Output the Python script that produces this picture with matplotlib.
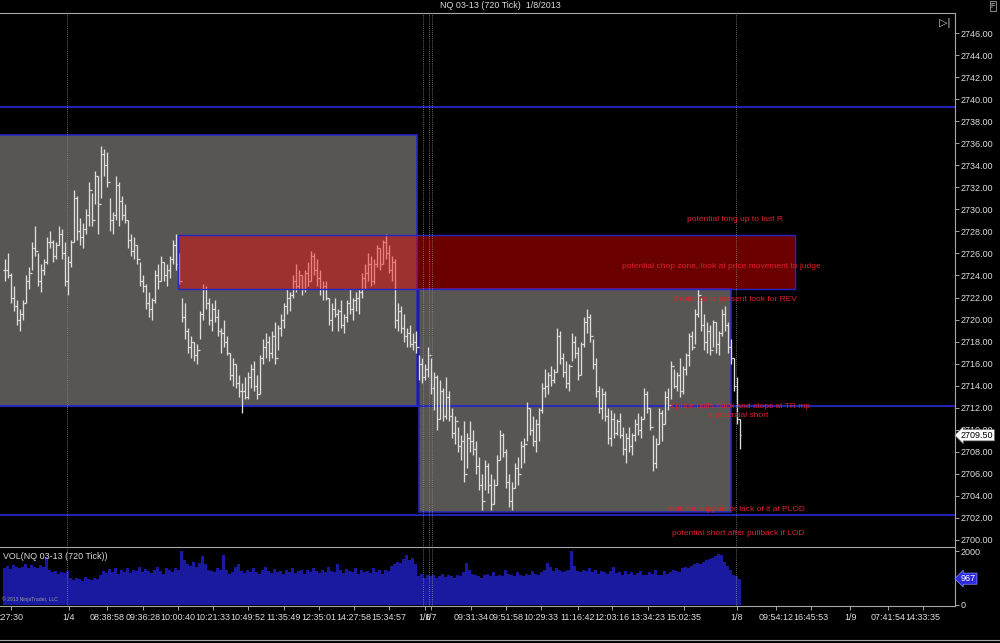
import numpy as np
import matplotlib
matplotlib.use('Agg')
import matplotlib.pyplot as plt
import matplotlib.transforms as mtransforms
from matplotlib.patches import Rectangle

plt.rcParams['font.family'] = ['Liberation Sans', 'DejaVu Sans']

###################################
# chart data
###################################
title = 'NQ 03-13 (720 Tick)  1/8/2013'

highs = [2725.5, 2726.0, 2724.25, 2723.0, 2721.75, 2721.0, 2721.75, 2724.0, 2724.75, 2727.0,
         2728.5, 2726.0, 2725.0, 2725.5, 2727.5, 2728.0, 2727.25, 2727.0, 2728.5, 2728.25,
         2727.0, 2725.75, 2727.25, 2731.75, 2731.25, 2729.25, 2728.75, 2730.0, 2732.5, 2731.5,
         2733.5, 2733.0, 2735.75, 2735.5, 2735.25, 2731.0, 2729.75, 2733.0, 2732.5, 2731.25,
         2730.5, 2729.0, 2727.75, 2727.5, 2726.75, 2725.25, 2724.0, 2723.25, 2722.5, 2722.0,
         2724.5, 2725.0, 2725.75, 2725.25, 2725.0, 2725.75, 2727.25, 2727.75, 2726.0, 2722.0,
         2721.5, 2719.25, 2718.5, 2718.0, 2717.75, 2720.75, 2723.25, 2723.0, 2722.0, 2721.5,
         2721.75, 2721.0, 2719.25, 2720.0, 2718.5, 2717.0, 2716.5, 2716.0, 2715.0, 2714.25,
         2714.75, 2715.25, 2716.0, 2716.25, 2715.0, 2716.75, 2718.25, 2718.75, 2718.5, 2719.0,
         2719.75, 2719.5, 2720.5, 2721.5, 2722.75, 2722.5, 2724.0, 2725.0, 2724.5, 2724.0,
         2724.5, 2725.25, 2726.25, 2726.0, 2725.5, 2724.5, 2723.5, 2723.5, 2722.0, 2721.5,
         2722.0, 2721.0, 2721.75, 2720.5, 2721.75, 2722.75, 2722.0, 2722.5, 2722.75, 2724.25,
         2725.0, 2726.0, 2725.75, 2725.5, 2726.75, 2726.5, 2727.25, 2727.75, 2726.75, 2725.75,
         2725.5, 2721.5, 2721.25, 2720.5, 2719.25, 2719.5, 2718.75, 2719.0, 2716.75, 2716.5,
         2716.0, 2717.5, 2716.5, 2715.25, 2715.0, 2714.5, 2713.75, 2714.75, 2713.5, 2712.0,
         2711.25, 2710.25, 2709.5, 2710.75, 2709.75, 2710.75, 2710.0, 2709.0, 2707.5, 2706.0,
         2707.25, 2707.0, 2706.0, 2705.5, 2707.75, 2710.0, 2709.75, 2708.25, 2706.0, 2705.25,
         2707.0, 2707.5, 2709.0, 2709.25, 2712.5, 2712.0, 2711.25, 2711.0, 2712.0, 2714.25,
         2715.5, 2715.25, 2715.75, 2715.5, 2719.25, 2719.0, 2717.0, 2716.25, 2716.0, 2718.75,
         2718.5, 2717.5, 2718.0, 2720.25, 2721.0, 2720.5, 2718.25, 2716.5, 2714.0, 2713.75,
         2713.5, 2712.0, 2711.75, 2711.5, 2711.0, 2711.5, 2710.25, 2709.75, 2710.25, 2709.75,
         2711.0, 2711.5, 2711.25, 2713.75, 2713.5, 2712.0, 2709.5, 2709.25, 2712.0, 2711.75,
         2713.5, 2713.75, 2716.25, 2715.5, 2715.25, 2716.5, 2715.75, 2717.0, 2718.75, 2719.0,
         2721.0, 2722.75, 2722.0, 2720.5, 2719.75, 2719.5, 2720.0, 2719.75, 2719.0, 2721.0,
         2721.25, 2719.75, 2718.25, 2716.5, 2714.75, 2711.0]

lows = [2723.5, 2723.75, 2721.5, 2720.75, 2719.5, 2719.0, 2720.0, 2721.5, 2722.75, 2724.5,
        2725.75, 2723.0, 2722.5, 2724.0, 2725.0, 2726.5, 2725.25, 2725.5, 2726.75, 2725.5,
        2723.0, 2722.25, 2724.75, 2727.0, 2727.25, 2726.75, 2726.5, 2727.75, 2728.5, 2728.5,
        2730.5, 2727.75, 2731.0, 2733.0, 2732.0, 2728.0, 2727.75, 2729.0, 2728.5, 2729.0,
        2728.75, 2726.5, 2725.75, 2725.5, 2725.0, 2723.0, 2722.5, 2721.0, 2720.25, 2720.0,
        2721.5, 2722.75, 2723.5, 2723.5, 2723.0, 2723.75, 2725.0, 2724.5, 2723.25, 2719.75,
        2718.25, 2717.0, 2716.5, 2716.25, 2716.0, 2718.25, 2720.0, 2721.0, 2719.5, 2719.0,
        2719.75, 2718.5, 2717.0, 2717.5, 2716.75, 2714.5, 2714.0, 2713.75, 2713.0, 2711.5,
        2712.75, 2712.75, 2713.75, 2713.5, 2712.75, 2713.25, 2716.0, 2716.5, 2716.25, 2716.5,
        2716.0, 2717.25, 2718.5, 2719.25, 2720.5, 2720.75, 2722.0, 2722.5, 2722.75, 2722.25,
        2722.5, 2723.0, 2723.5, 2724.0, 2723.0, 2722.25, 2721.75, 2721.75, 2719.5, 2719.0,
        2720.25, 2719.0, 2719.25, 2718.75, 2719.75, 2720.5, 2720.0, 2720.75, 2720.5, 2722.0,
        2722.75, 2723.5, 2723.0, 2723.25, 2724.75, 2724.5, 2725.0, 2725.5, 2724.25, 2723.5,
        2719.25, 2719.0, 2718.75, 2718.0, 2717.5, 2717.5, 2717.25, 2717.0, 2714.5, 2714.25,
        2714.5, 2714.75, 2713.25, 2711.75, 2710.0, 2711.0, 2710.75, 2711.0, 2710.75, 2709.25,
        2708.75, 2708.0, 2707.25, 2705.25, 2706.5, 2708.0, 2707.75, 2706.0, 2704.5, 2702.75,
        2704.5, 2704.25, 2702.75, 2703.25, 2705.0, 2707.25, 2707.5, 2704.75, 2703.0, 2702.75,
        2704.75, 2705.0, 2706.5, 2707.0, 2709.0, 2709.5, 2708.5, 2708.0, 2709.0, 2711.5,
        2713.0, 2713.25, 2714.0, 2714.25, 2715.25, 2716.0, 2714.75, 2713.75, 2713.5, 2716.25,
        2716.5, 2714.5, 2715.0, 2717.5, 2718.75, 2718.0, 2715.5, 2713.0, 2711.5, 2711.0,
        2710.75, 2708.75, 2708.5, 2709.25, 2709.5, 2709.25, 2707.75, 2707.0, 2708.0, 2707.75,
        2709.0, 2709.5, 2709.25, 2711.0, 2711.5, 2710.0, 2706.25, 2706.5, 2708.75, 2709.0,
        2710.5, 2711.75, 2712.75, 2713.75, 2713.5, 2713.0, 2713.25, 2715.0, 2715.75, 2717.25,
        2717.75, 2720.25, 2719.0, 2717.25, 2717.0, 2716.75, 2717.5, 2717.0, 2716.75, 2718.5,
        2719.0, 2717.0, 2716.0, 2713.5, 2710.5, 2708.25]

closes = [2724.5, 2724.0, 2722.0, 2721.25, 2720.0, 2720.5, 2721.5, 2723.5, 2724.25, 2726.5,
          2726.25, 2723.5, 2724.5, 2725.25, 2727.0, 2727.0, 2725.75, 2726.75, 2727.75, 2726.0,
          2723.5, 2725.25, 2727.0, 2731.0, 2728.0, 2727.5, 2728.25, 2729.5, 2731.75, 2729.0,
          2733.0, 2730.5, 2735.0, 2734.0, 2732.5, 2729.0, 2729.5, 2732.25, 2730.75, 2729.5,
          2729.0, 2727.25, 2726.25, 2726.75, 2725.5, 2723.5, 2723.0, 2721.5, 2721.0, 2721.75,
          2724.0, 2723.5, 2725.25, 2724.0, 2724.5, 2725.5, 2726.75, 2725.0, 2723.5, 2720.25,
          2719.0, 2717.5, 2718.0, 2716.75, 2717.25, 2720.5, 2722.75, 2721.5, 2720.0, 2721.0,
          2720.25, 2719.0, 2718.75, 2718.0, 2717.0, 2715.0, 2716.0, 2714.25, 2713.5, 2713.5,
          2713.0, 2714.75, 2715.5, 2714.0, 2713.25, 2716.5, 2717.5, 2718.0, 2717.0, 2718.5,
          2716.5, 2719.25, 2720.0, 2721.25, 2722.0, 2722.25, 2723.5, 2723.0, 2724.0, 2722.75,
          2724.25, 2723.5, 2725.75, 2724.5, 2723.75, 2722.75, 2723.0, 2722.0, 2720.0, 2721.0,
          2720.5, 2720.75, 2719.5, 2720.25, 2721.5, 2721.0, 2721.75, 2722.0, 2722.5, 2723.75,
          2724.25, 2725.0, 2723.5, 2725.0, 2726.5, 2725.0, 2727.0, 2726.0, 2724.5, 2725.25,
          2720.0, 2720.75, 2719.25, 2718.5, 2718.75, 2717.75, 2718.0, 2717.5, 2716.0, 2714.75,
          2715.5, 2716.75, 2713.75, 2714.75, 2711.0, 2713.5, 2711.25, 2713.0, 2711.25, 2709.75,
          2710.75, 2708.5, 2709.0, 2706.0, 2709.25, 2709.0, 2708.25, 2706.75, 2705.0, 2703.5,
          2706.75, 2705.0, 2703.25, 2705.0, 2707.25, 2709.5, 2708.0, 2705.25, 2703.5, 2704.75,
          2706.5, 2706.0, 2708.5, 2708.75, 2712.0, 2710.0, 2709.0, 2710.5, 2711.75, 2713.75,
          2714.0, 2715.0, 2714.5, 2715.25, 2718.5, 2716.5, 2715.25, 2714.25, 2715.75, 2718.0,
          2717.0, 2715.0, 2717.75, 2719.75, 2720.25, 2718.5, 2716.0, 2713.5, 2712.0, 2713.25,
          2711.25, 2709.25, 2711.0, 2709.75, 2710.75, 2709.5, 2708.25, 2709.25, 2708.5, 2709.5,
          2710.5, 2710.0, 2711.0, 2713.25, 2712.0, 2710.25, 2707.0, 2708.75, 2711.5, 2710.5,
          2713.0, 2712.25, 2715.75, 2714.0, 2715.0, 2713.5, 2715.5, 2716.75, 2718.5, 2717.5,
          2720.5, 2722.25, 2719.5, 2718.0, 2719.0, 2717.25, 2719.75, 2717.75, 2718.75, 2720.5,
          2719.5, 2717.5, 2716.5, 2714.0, 2711.0, 2709.5]

volume = [1380, 1450, 1320, 1480, 1400, 1350, 1420, 1500, 1380, 1460,
          1400, 1350, 1480, 1420, 1770, 1300, 1200, 1250, 1150, 1220,
          1180, 1240, 980, 920, 1000, 950, 880, 1020, 960, 900,
          990, 940, 1100, 1250, 1180, 1320, 1200, 1380, 1150, 1280,
          1220, 1350, 1180, 1300, 1250, 1400, 1200, 1320, 1260, 1180,
          1300, 1400, 1250, 1150, 1350, 1280, 1200, 1380, 1300, 2000,
          1650, 1500, 1450, 1600, 1400, 1550, 1800, 1500, 1300, 1250,
          1200, 1350, 1280, 1850, 1300, 1150, 1220, 1400, 1500, 1250,
          1180, 1300, 1220, 1350, 1200, 1150, 1280, 1400, 1250, 1180,
          1320, 1200, 1260, 1150, 1300, 1220, 1350, 1180, 1250, 1300,
          1150, 1280, 1200, 1350, 1250, 1180, 1300, 1220, 1400, 1260,
          1200, 1500, 1280, 1180, 1320, 1250, 1200, 1380, 1150, 1300,
          1220, 1260, 1180, 1350, 1200, 1280, 1150, 1300, 1250, 1450,
          1500, 1600, 1550, 1700, 1850, 1650, 1750, 1500, 1050, 1150,
          1000, 1100, 1050, 1120, 1000, 1080, 1150, 1020, 1100, 1050,
          1000, 1120, 1080, 1200, 1550, 1300, 1150, 1100, 1050, 1000,
          1100, 1150, 1050, 1200, 1080, 1120, 1050, 1300, 1150, 1100,
          1080, 1200, 1120, 1050, 1150, 1100, 1250, 1150, 1100, 1200,
          1300, 1550, 1400, 1250, 1350, 1300, 1200, 1250, 1300, 2000,
          1450, 1250, 1200, 1300, 1250, 1350, 1200, 1300, 1150, 1250,
          1200, 1150, 1250, 1400, 1180, 1200, 1100, 1250, 1150, 1200,
          1100, 1180, 1250, 1120, 1100, 1200, 1150, 1300, 1120, 1100,
          1250, 1150, 1200, 1300, 1250, 1200, 1350, 1400, 1380, 1450,
          1500, 1550, 1520, 1600, 1650, 1700, 1750, 1800, 1900, 1850,
          1600, 1450, 1300, 1100, 1050, 967]

last_price = 2709.50

# drawn zones: [first bar, last bar, top price, bottom price]
range_box_1 = [-2.0, 137.3, 2736.75, 2712.15]
range_box_2 = [138.0, 242.0, 2722.8, 2702.5]
chop_zone = [57.7, 263.3, 2727.7, 2722.8]
level_lines = [2739.25, 2712.15, 2702.3]
session_lines = [20.7, 139.3, 141.3, 142.3, 243.7]

notes = ['potential long up to last R',
         'potential chop zone, look at price movement to judge',
         'if rotation is present look for REV',
         'if price pulls back and stops at TR mp',
         'a potential short',
         'look for support or lack of it at PLOD',
         'potential short after pullback if LOD']
note_bar = [243.3, 238.7, 243.3, 244.7, 244.3, 243.7, 244.3]
note_price = [2729.05, 2724.85, 2721.85, 2712.15, 2711.25, 2702.8, 2700.55]

tick_pos = [2.0, 21.3, 34.0, 46.0, 57.7, 69.3, 81.0, 93.0, 104.7, 116.3, 128.0,
            140.0, 142.0, 155.3, 167.0, 178.7, 191.0, 202.3, 214.3, 226.3,
            244.0, 257.0, 268.7, 281.7, 294.3, 306.0]
tick_lab = [':27:30', '1/4', '08:38:58', '09:36:28', '10:00:40', '10:21:33',
            '10:49:52', '11:35:49', '12:35:01', '14:27:58', '15:34:57',
            '1/6', '1/7', '09:31:34', '09:51:58', '10:29:33', '11:16:42',
            '12:03:16', '13:34:23', '15:02:35', '1/8', '09:54:12', '16:45:53',
            '1/9', '07:41:54', '14:33:35']

###################################
# styling
###################################
bg = 'black'
axis_col = '#a8a8a8'
txt_col = '#dcdcdc'
box_gray = '#585652'
line_blue = '#2626c8'
note_red = '#e0222c'
vol_blue = '#1a1aa0'
xmin, xmax = -5 / 3., 950 / 3.

fig = plt.figure(figsize=(10, 6.43), dpi=100, facecolor=bg)

ax = fig.add_axes([0.0, 0.1493, 0.955, 0.8305], facecolor=bg)
axv = fig.add_axes([0.0, 0.0575, 0.955, 0.0918], facecolor=bg, sharex=ax)

x = np.arange(len(highs))
opens = [closes[0]] + closes[:-1]

# zones
for (x0, x1, ptop, pbot) in [range_box_1, range_box_2]:
    ax.add_patch(Rectangle((x0, pbot), x1 - x0, ptop - pbot, facecolor=box_gray,
                           edgecolor=line_blue, lw=1.1, zorder=1))
for p in level_lines:
    ax.axhline(p, color=line_blue, lw=1.3, zorder=2)

# price bars
ax.vlines(x, lows, highs, color='#dedede', lw=0.95, zorder=3)
ax.hlines(opens, x - 0.5, x, color='#dedede', lw=0.9, zorder=3)
ax.hlines(closes, x, x + 0.5, color='#dedede', lw=0.9, zorder=3)

x0, x1, ptop, pbot = chop_zone
ax.add_patch(Rectangle((x0, pbot), x1 - x0, ptop - pbot, facecolor=(1, 0, 0, 0.42),
                       edgecolor=line_blue, lw=1.0, zorder=4))

for sx in session_lines:
    ax.axvline(sx, color='#8a8a8a', lw=0.6, ls=(0, (1, 1.5)), zorder=5)
    axv.axvline(sx, color='#8a8a8a', lw=0.6, ls=(0, (1, 1.5)), zorder=5)

for t, bx, bp in zip(notes, note_bar, note_price):
    ax.text(bx, bp, t, color=note_red, fontsize=6.0, ha='center', va='center', zorder=6)

ax.set_xlim(xmin, xmax)
ax.set_ylim(2699.36, 2747.82)
ax.yaxis.tick_right()
ax.set_yticks(np.arange(2700, 2747, 2))
ax.set_yticklabels(['%.2f' % v for v in np.arange(2700, 2747, 2)])
ax.tick_params(axis='y', colors=axis_col, labelcolor=txt_col, labelsize=6.5,
               length=3, width=0.7, pad=1)
ax.tick_params(axis='x', bottom=False, labelbottom=False)
for s in ['left', 'bottom']:
    ax.spines[s].set_visible(False)
ax.spines['top'].set_color(axis_col)
ax.spines['right'].set_color(axis_col)
ax.spines['top'].set_linewidth(0.8)
ax.spines['right'].set_linewidth(0.8)

# last price tag
trans = mtransforms.blended_transform_factory(ax.transAxes, ax.transData)
ax.text(1.006, last_price, '%.2f' % last_price, transform=trans, fontsize=6.5,
        color='black', va='center', ha='left', zorder=10, clip_on=False,
        bbox=dict(boxstyle='larrow,pad=0.12', fc='white', ec='#808080', lw=0.5))

# volume panel
axv.bar(x, volume, width=1.0, color=vol_blue, linewidth=0, zorder=2)
axv.set_ylim(-57, 2151)
axv.yaxis.tick_right()
axv.set_yticks([0, 2000])
axv.set_yticklabels(['0', '2000'])
axv.tick_params(axis='y', colors=axis_col, labelcolor=txt_col, labelsize=6.5,
                length=3, width=0.7, pad=1)
axv.set_xticks(tick_pos)
axv.set_xticklabels(tick_lab)
axv.tick_params(axis='x', colors=axis_col, labelcolor=txt_col, labelsize=6.5,
                length=3, width=0.7, pad=2)
axv.spines['left'].set_visible(False)
for s in ['top', 'bottom', 'right']:
    axv.spines[s].set_color(axis_col)
    axv.spines[s].set_linewidth(0.8)

transv = mtransforms.blended_transform_factory(axv.transAxes, axv.transData)
axv.text(1.006, volume[-1], '%d' % volume[-1], transform=transv, fontsize=6.5,
         color='white', va='center', ha='left', zorder=10, clip_on=False,
         bbox=dict(boxstyle='larrow,pad=0.12', fc='#2a2ae0', ec='#9090ff', lw=0.5))
axv.text(0.003, 0.84, 'VOL(NQ 03-13 (720 Tick))', transform=axv.transAxes,
         color=txt_col, fontsize=6.4, ha='left', va='center')
axv.text(0.002, 0.06, '\u00a9 2013 NinjaTrader, LLC', transform=axv.transAxes,
         color='#9a9a9a', fontsize=3.6, ha='left', va='bottom')

# title and chart window bits
fig.text(0.5, 1 - 6 / 643., title, color=txt_col, fontsize=6.4, ha='center', va='center')
fig.text(0.945, 1 - 23 / 643., '\u25b7|', color='#c8c8c8', fontsize=8, ha='center', va='center')
fig.text(0.993, 1 - 6 / 643., 'F', color='#c8c8c8', fontsize=5.5, ha='center', va='center',
         bbox=dict(boxstyle='square,pad=0.15', fc='black', ec='#a0a0a0', lw=0.6))
fig.add_artist(plt.Line2D([0, 1], [1 - 640 / 643., 1 - 640 / 643.], color=axis_col, lw=0.8))

fig.savefig('out.png', dpi=100, facecolor=bg)
